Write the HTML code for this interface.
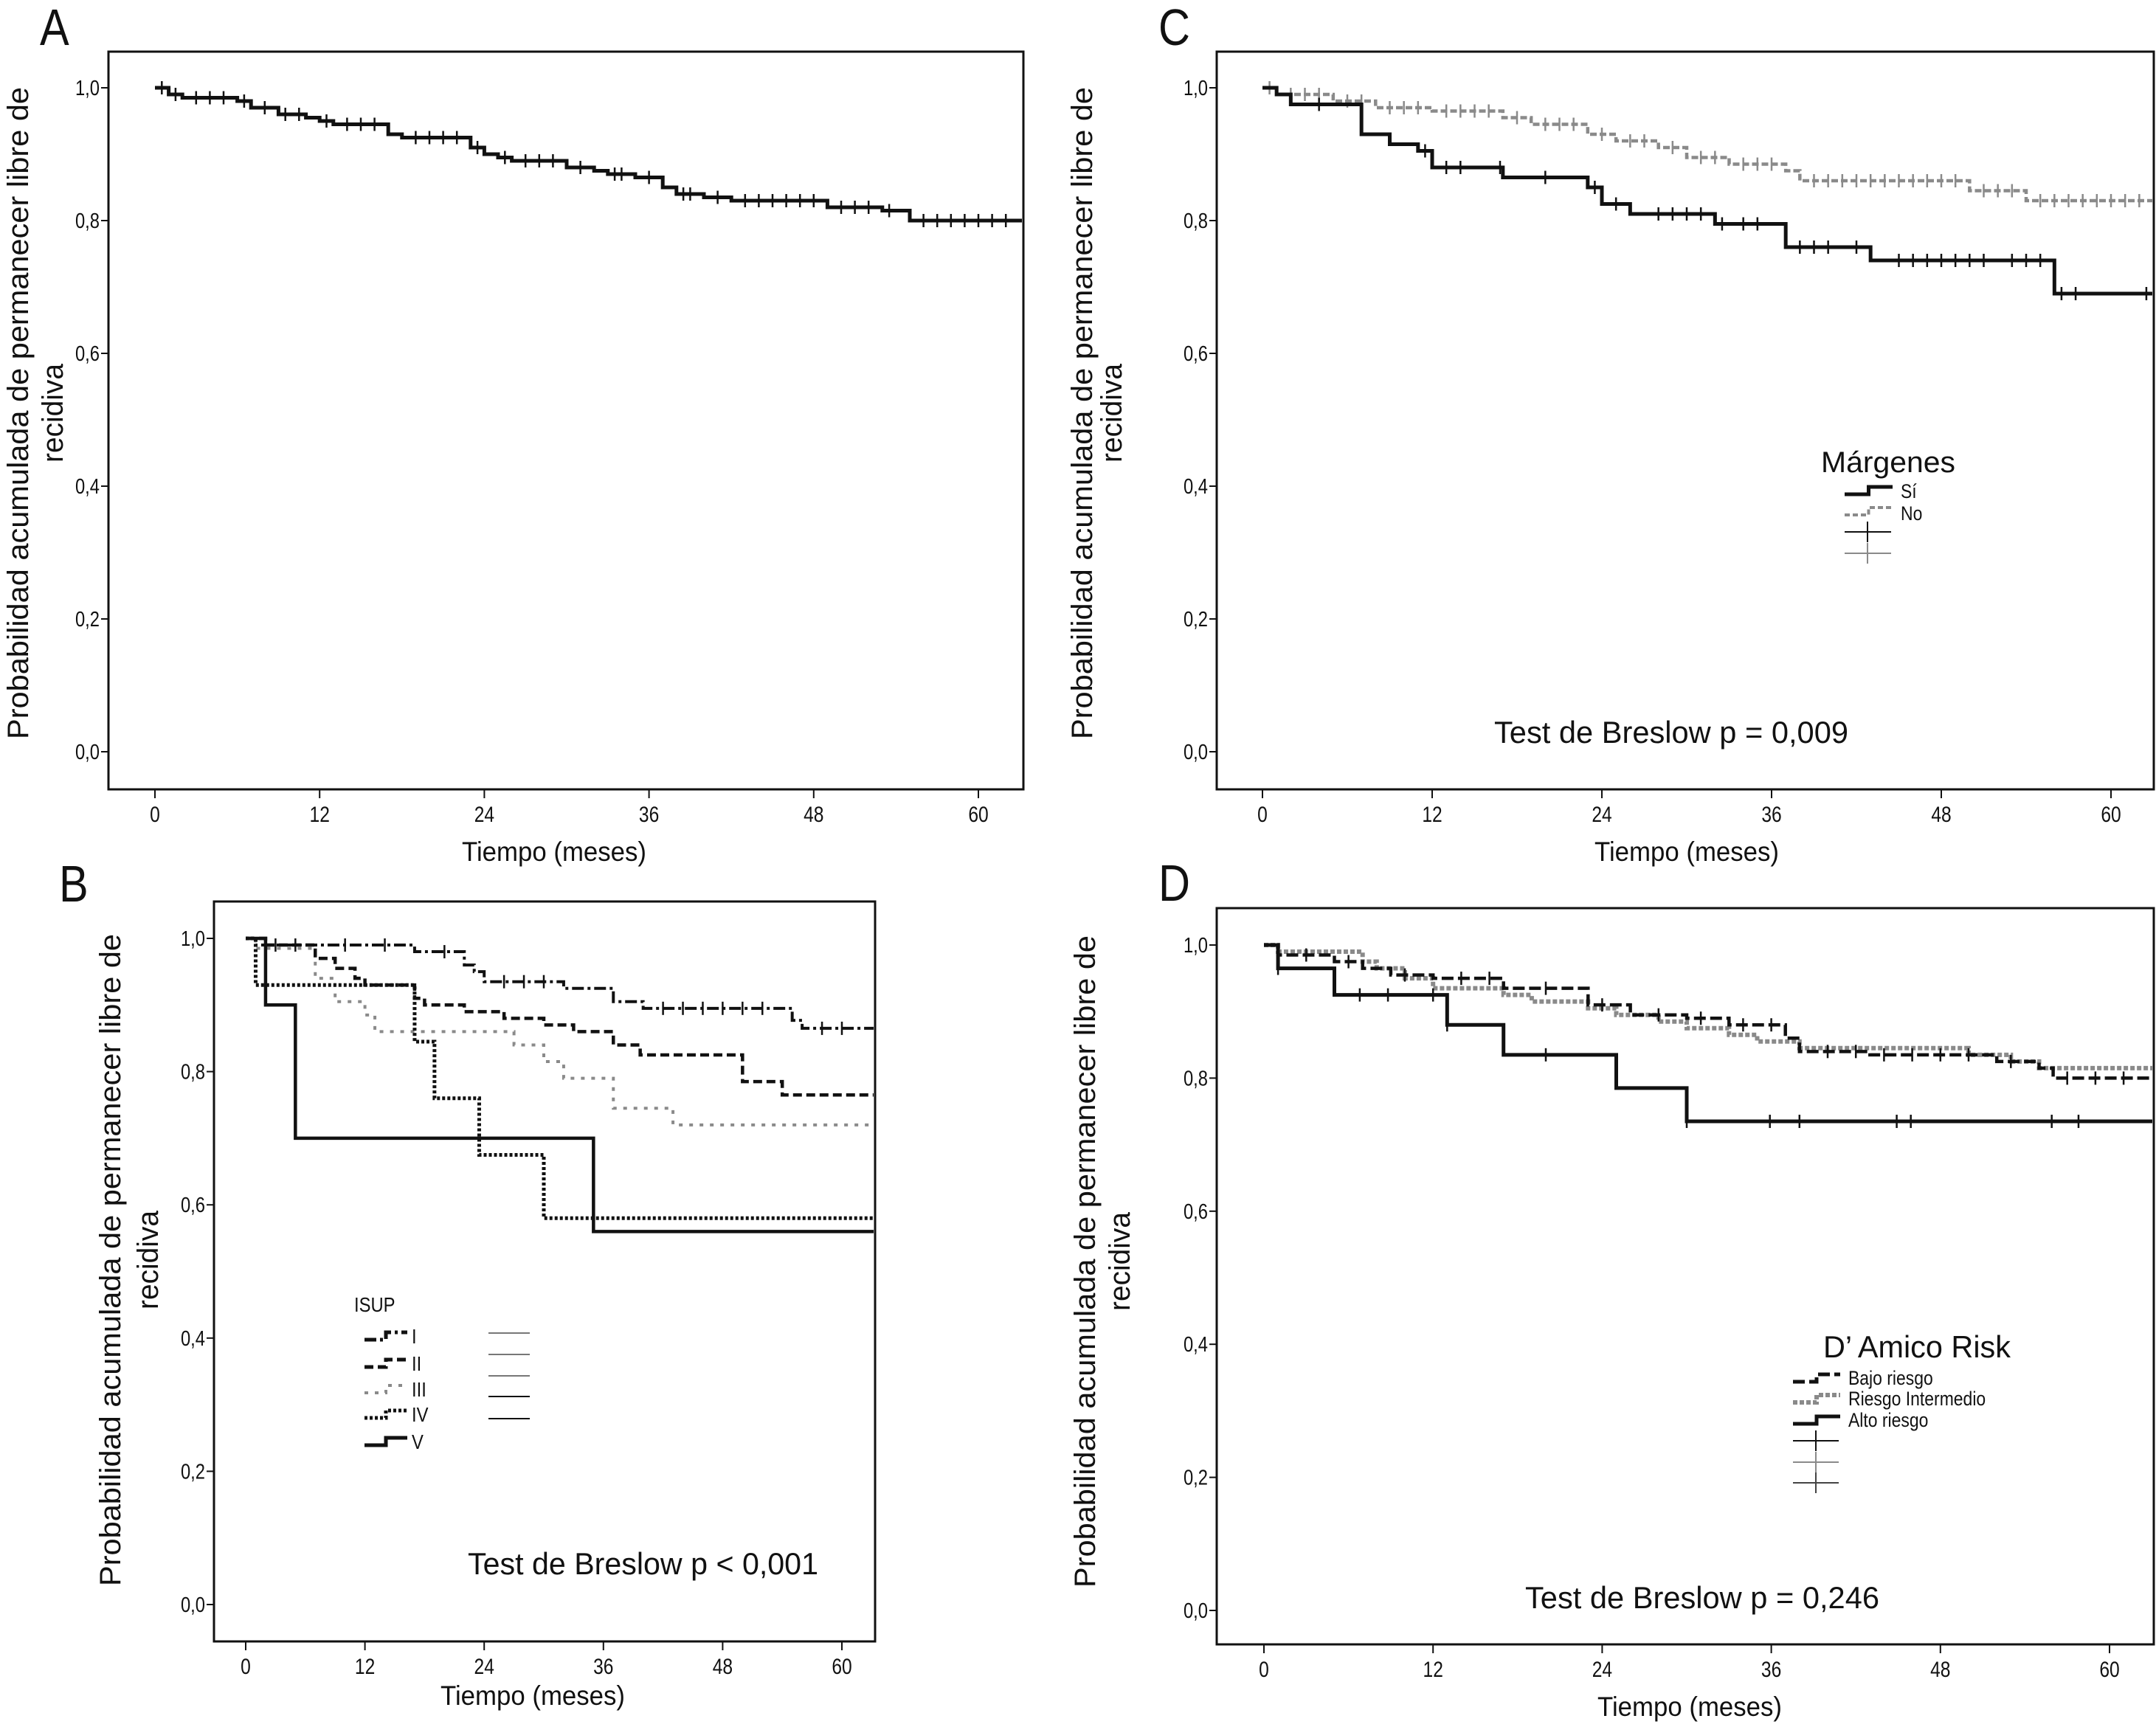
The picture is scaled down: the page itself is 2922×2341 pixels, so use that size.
<!DOCTYPE html>
<html><head><meta charset="utf-8"><style>
html,body{margin:0;padding:0;background:#fff}
svg{display:block}
text{font-family:"Liberation Sans",sans-serif;fill:#111}
</style></head><body>
<svg id="fig" xmlns="http://www.w3.org/2000/svg" width="2922" height="2341" viewBox="0 0 2922 2341">
<rect x="0" y="0" width="2922" height="2341" fill="#fff"/>
</svg>
<script>
// ---- Panel A data ----
const A_t=[0,1,2,6,7,9,11,12,13,17,18,23,24,25,26,30,32,33,35,37,38,40,42,49,53,55];
const A_s=[1,0.99,0.985,0.98,0.97,0.96,0.955,0.95,0.945,0.93,0.925,0.91,0.90,0.895,0.89,0.88,0.875,0.87,0.865,0.85,0.84,0.835,0.83,0.82,0.815,0.80];
const A_cens=[0.5,1.5,3,4,5,6.5,8,9.5,10.5,12.5,14,15,16,19,20,21,22,23.5,25.5,27,28,29,31,33.5,34,36,38.5,39,41,43,44,45,46,47,48,50,51,52,53.5,56,57,58,59,60,61,62];
// ---- Panel B data (ISUP) ----
const BI_t=[0,1,17,22,23,24,32,37,40,55,56];
const BI_s=[1,0.99,0.98,0.96,0.95,0.935,0.925,0.905,0.895,0.877,0.865];
const BI_cens=[3,5,10,14,20,26,28,30,42,44,46,48,50,52,58,60];
const BII_t=[0,2,7,9,11,12,17,18,22,26,30,33,37,39.7,50,54];
const BII_s=[1,0.99,0.97,0.955,0.94,0.93,0.91,0.90,0.89,0.88,0.87,0.86,0.84,0.825,0.785,0.765];
const BIII_t=[0,1,7,9,12,13,27,30,32,37,43];
const BIII_s=[1,0.985,0.94,0.905,0.885,0.86,0.84,0.815,0.79,0.745,0.72];
const BIV_t=[0,1,17,19,23.5,30];
const BIV_s=[1,0.93,0.845,0.76,0.675,0.58];
const BV_t=[0,2,5,35];
const BV_s=[1,0.9,0.7,0.56];
// ---- Panel C data (Márgenes) ----
const CS_t=[0,1,2,7,9,11,12,17,23,24,26,32,37,43,56];
const CS_s=[1,0.99,0.975,0.93,0.915,0.905,0.88,0.865,0.85,0.825,0.81,0.795,0.76,0.74,0.69];
const CS_cens=[4,11.5,13,14,16.8,20,23.5,25,28,29,30,31,32.5,34,35,38,39,40,42,45,46,47,48,49,50,51,53,54,55,56.5,57.5,62.5];
const CN_t=[0,1,5,8,12,17,19,23,25,28,30,33,37,38,50,54];
const CN_s=[1,0.99,0.98,0.97,0.965,0.955,0.945,0.93,0.92,0.91,0.895,0.885,0.875,0.86,0.845,0.83];
const CN_cens=[0.5,2,3,4,6,7,9,10,11,13,14,15,16,18,20,21,22,24,26,27,29,31,32,34,35,36,39,40,41,42,43,44,45,46,47,48,49,51,52,53,55,56,57,58,59,60,61,62];
// ---- Panel D data (D'Amico) ----
const DB_t=[0,1,5,7,9,12,17,23,26,30,33,37,38,43,52,55,56];
const DB_s=[1,0.985,0.975,0.965,0.955,0.95,0.935,0.91,0.895,0.89,0.88,0.86,0.84,0.835,0.825,0.815,0.80];
const DB_cens=[3,6,10,14,16,20,24,28,31,34,36,40,42,44,46,48,50,53,57,59,61];
const DI_t=[0,1,7,8,10,12,17,19,23,25,28,30,33,35,38,50,53,55];
const DI_s=[1,0.99,0.975,0.965,0.95,0.935,0.925,0.915,0.905,0.895,0.885,0.875,0.865,0.855,0.845,0.835,0.825,0.815];
const DA_t=[0,1,5,13,17,25,30];
const DA_s=[1,0.965,0.925,0.88,0.835,0.785,0.735];
const DA_cens=[1,6.8,8.8,12,13,20,30,35.9,38,44.9,45.9,55.9,57.8];
const xTicks=[0,12,24,36,48,60];
const yTicks=[0,0.2,0.4,0.6,0.8,1.0];
const yTickLabels=["0,0","0,2","0,4","0,6","0,8","1,0"];

const NS="http://www.w3.org/2000/svg";
const svg=document.getElementById('fig');
function el(tag,attrs,parent){const e=document.createElementNS(NS,tag);for(const k in attrs)e.setAttribute(k,attrs[k]);(parent||svg).appendChild(e);return e;}
function txt(parent,x,y,s,size,anchor,sx,len){
  const t=el('text',{transform:`translate(${x},${y}) scale(${sx||1},1)`,'font-size':size,'text-anchor':anchor||'start'},parent);
  if(len){t.setAttribute('textLength',len);t.setAttribute('lengthAdjust','spacingAndGlyphs');}
  t.textContent=s;return t;
}
function makePanel(id,P){
  const g=el('g',{});
  
  
  P.g=g;
  P.X=t=>P.x0+(P.x60-P.x0)*t/60;
  P.Y=s=>P.y0+(P.y1-P.y0)*s;
  P.tmax=(P.R-P.x0)/(P.x60-P.x0)*60;
  const f=el('rect',{x:P.L,y:P.T,width:P.R-P.L,height:P.B-P.T,fill:'none',stroke:'#111','stroke-width':3},g);
  
  
  yTicks.forEach((v,i)=>{
    const y=P.Y(v);
    el('line',{x1:P.L-10,x2:P.L,y1:y,y2:y,stroke:'#111','stroke-width':2},g);
    const t=txt(g,P.L-12,y+10,yTickLabels[i],29,'end',0.82);
    
    
  });
  xTicks.forEach(v=>{
    const x=P.X(v);
    el('line',{x1:x,x2:x,y1:P.B,y2:P.B+12,stroke:'#111','stroke-width':2},g);
    const t=txt(g,x,P.B+44,String(v),30,'middle',0.82);
    
    
  });
  const xt=txt(g,P.xtx,P.xty,'Tiempo (meses)',37,'middle',1,250);
  
  
  const yg=el('g',{transform:`translate(${P.ytx},${P.yty}) rotate(-90)`},g);
  
  
  txt(yg,0,0,'Probabilidad acumulada de permanecer libre de',40,'middle',1,884);
  txt(yg,0,P.yGap,'recidiva',40,'middle',1,134);
  const lt=txt(g,P.lx,P.ly,id,70,'start',0.85);
  
  
  return P;
}
function survAt(ts,ss,t){let s=ss[0];for(let i=0;i<ts.length;i++){if(ts[i]<=t)s=ss[i];}return s;}
function curve(P,name,ts,ss,style,cens){
  let d=`M${P.X(ts[0])},${P.Y(ss[0])}`;
  for(let i=1;i<ts.length;i++){d+=` H${P.X(ts[i])} V${P.Y(ss[i])}`;}
  d+=` H${P.X(P.tmax)-2}`;
  const p=el('path',{d:d,fill:'none',stroke:style.c,'stroke-width':style.w,'stroke-dasharray':style.dash||'none'},P.g);
  
  
  if(cens){cens.forEach(t=>{
    const x=P.X(t),y=P.Y(survAt(ts,ss,t));
    const m=el('line',{x1:x,x2:x,y1:y-9,y2:y+9,stroke:style.c,'stroke-width':2.5},P.g);
    
    
  });}
}
function sample(g,x1,x2,y,style){
  el('path',{d:`M${x1},${y+5} H${(x1+x2)/2} V${y-5} H${x2}`,fill:'none',stroke:style.c,'stroke-width':style.w,'stroke-dasharray':style.dash||'none'},g);
}
const BLK='#111',GRY='#8a8a8a';

// Panel A
const PA=makePanel('A',{L:147,T:70,R:1387,B:1070,x0:210,x60:1326,y1:119,y0:1019,xtx:751,xty:1167,ytx:38,yty:560,yGap:47,lx:54,ly:61});
curve(PA,'survival-curve-overall',A_t,A_s,{c:BLK,w:5},A_cens);

// Panel B
const PB=makePanel('B',{L:290,T:1222,R:1186,B:2225,x0:333,x60:1141,y1:1272,y0:2175,xtx:722,xty:2311,ytx:163,yty:1708,yGap:51,lx:80,ly:1222});
curve(PB,'curve-isup-iii',BIII_t,BIII_s,{c:GRY,w:4,dash:'5 9'});
curve(PB,'curve-isup-i',BI_t,BI_s,{c:BLK,w:4,dash:'16 5 4 5'},BI_cens);
curve(PB,'curve-isup-ii',BII_t,BII_s,{c:BLK,w:4.5,dash:'12 6'});
curve(PB,'curve-isup-iv',BIV_t,BIV_s,{c:BLK,w:5,dash:'4 3'});
curve(PB,'curve-isup-v',BV_t,BV_s,{c:BLK,w:4.5});
{
  const lg=el('g',{});
  txt(lg,480,1778,'ISUP',28,'start',0.85);
  const st=[{c:BLK,w:5,dash:'16 5 4 5'},{c:BLK,w:5,dash:'12 6'},{c:GRY,w:4,dash:'5 9'},{c:BLK,w:5,dash:'4 3'},{c:BLK,w:5}];
  const labs=['I','II','III','IV','V'];const ys=[1811,1848,1883,1917,1954];
  ys.forEach((y,i)=>{const e=el('g',{},lg);
    sample(e,494,552,y,st[i]);txt(e,558,y+10,labs[i],28,'start',0.85);});
  [1807,1836,1865,1893,1923].forEach((y,i)=>el('line',{x1:662,x2:718,y1:y,y2:y,stroke:i<3?'#777':BLK,'stroke-width':2},lg));
  const t=txt(PB.g,634,2134,'Test de Breslow p < 0,001',42,'start',1,475);
  
}

// Panel C
const PC=makePanel('C',{L:1649,T:70,R:2919,B:1070,x0:1711,x60:2861,y1:119,y0:1019,xtx:2286,xty:1167,ytx:1480,yty:560,yGap:40,lx:1570,ly:61});
curve(PC,'curve-margenes-no',CN_t,CN_s,{c:GRY,w:4.5,dash:'9 4'},CN_cens);
curve(PC,'curve-margenes-si',CS_t,CS_s,{c:BLK,w:5},CS_cens);
{
  const lg=el('g',{});
  txt(lg,2559,640,'Márgenes',40,'middle',1,182);
  const e1=el('g',{},lg);
  sample(e1,2500,2565,665,{c:BLK,w:5});txt(e1,2576,675,'Sí',27,'start',0.85);
  const e2=el('g',{},lg);
  sample(e2,2500,2565,693,{c:GRY,w:4,dash:'7 4'});txt(e2,2576,705,'No',27,'start',0.85);
  [[721,BLK],[750,GRY]].forEach(([y,c])=>{el('line',{x1:2500,x2:2563,y1:y,y2:y,stroke:c,'stroke-width':2},lg);el('line',{x1:2531,x2:2531,y1:y-14,y2:y+14,stroke:c,'stroke-width':2},lg);});
  const t=txt(PC.g,2025,1007,'Test de Breslow p = 0,009',42,'start',1,480);
  
}

// Panel D
const PD=makePanel('D',{L:1649,T:1231,R:2919,B:2229,x0:1713,x60:2859,y1:1281,y0:2183,xtx:2290,xty:2326,ytx:1484,yty:1710,yGap:47,lx:1570,ly:1221});
curve(PD,'curve-riesgo-intermedio',DI_t,DI_s,{c:GRY,w:6,dash:'6 3'});
curve(PD,'curve-bajo-riesgo',DB_t,DB_s,{c:BLK,w:4.5,dash:'16 6'},DB_cens);
curve(PD,'curve-alto-riesgo',DA_t,DA_s,{c:BLK,w:5},DA_cens);
{
  const lg=el('g',{});
  txt(lg,2598,1840,"D’ Amico Risk",42,'middle',1,254);
  const st=[{c:BLK,w:5,dash:'16 6'},{c:GRY,w:6,dash:'6 3'},{c:BLK,w:5}];
  const labs=['Bajo riesgo','Riesgo Intermedio','Alto riesgo'];const ys=[1868,1896,1925];
  ys.forEach((y,i)=>{const e=el('g',{},lg);
    sample(e,2430,2494,y,st[i]);txt(e,2505,y+9,labs[i],27,'start',0.85);});
  [[1953,BLK],[1982,GRY],[2010,'#444']].forEach(([y,c])=>{el('line',{x1:2430,x2:2492,y1:y,y2:y,stroke:c,'stroke-width':2},lg);el('line',{x1:2461,x2:2461,y1:y-14,y2:y+14,stroke:c,'stroke-width':2},lg);});
  const t=txt(PD.g,2067,2180,'Test de Breslow p = 0,246',42,'start',1,480);
  
}
</script>
</body></html>
